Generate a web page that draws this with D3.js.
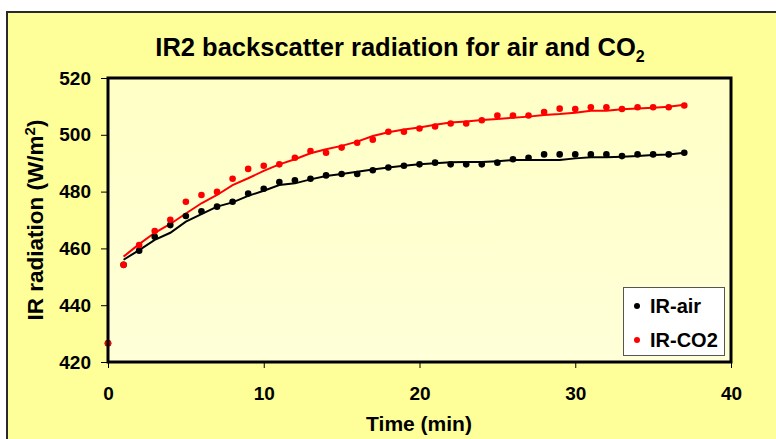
<!DOCTYPE html>
<html>
<head>
<meta charset="utf-8">
<script src="https://cdn.jsdelivr.net/npm/d3@7"></script>
<style>
  html, body { margin: 0; padding: 0; background: #ffffff; }
  svg { display: block; font-family: Arial, "Liberation Sans", sans-serif; }
</style>
</head>
<body>
<svg id="chart" width="776" height="439"></svg>
<script>
// ---- data ----
const times = d3.range(0, 38);
const airPoints = [426.6, 454.2, 459.2, 464.1, 468.2, 471.4, 473.1, 474.7, 476.4, 479.3,
  481.0, 483.4, 484.0, 484.5, 485.7, 486.2, 486.2, 487.5, 488.5, 489.1,
  489.6, 490.2, 489.6, 489.6, 489.6, 490.2, 491.4, 491.9, 493.1, 493.1,
  493.1, 493.1, 493.1, 492.5, 493.1, 493.1, 493.1, 493.7];
const co2Points = [426.6, 454.2, 461.2, 466.1, 470.1, 476.4, 478.8, 479.9, 484.5, 488.0,
  489.1, 489.6, 491.9, 494.3, 493.7, 495.5, 497.2, 498.3, 501.1, 501.1,
  502.2, 502.9, 504.0, 504.0, 505.1, 506.8, 506.8, 506.8, 508.0, 509.2,
  509.1, 509.7, 509.7, 509.1, 509.7, 509.7, 509.7, 510.3];
const lineTimes = d3.range(1, 38);
const airLine = [456.0, 459.4, 463.0, 465.5, 469.4, 472.1, 474.7, 476.2, 478.5, 480.3,
  482.3, 482.9, 484.3, 485.5, 486.2, 487.0, 487.8, 488.5, 489.1, 489.6,
  490.0, 490.3, 490.4, 490.4, 490.7, 491.1, 491.1, 491.1, 491.1, 491.7,
  492.1, 492.1, 492.3, 492.5, 492.9, 493.1, 493.7];
const co2Line = [457.1, 461.5, 465.5, 468.6, 472.3, 475.9, 478.8, 482.3, 484.7, 487.3,
  489.6, 491.4, 493.5, 494.9, 496.1, 497.6, 499.6, 500.9, 501.9, 502.6,
  503.5, 504.3, 504.7, 505.2, 505.6, 506.0, 506.4, 507.0, 507.3, 507.8,
  508.5, 508.5, 509.0, 509.3, 509.5, 509.9, 510.6];
const xTicks = [0, 10, 20, 30, 40];
const yTicks = [420, 440, 460, 480, 500, 520];
const seriesNames = ["IR-air", "IR-CO2"];
const seriesColors = ["#000000", "#ff0000"];

// ---- layout ----
const svg = d3.select("#chart");
const plot = { left: 108, top: 78, right: 731, bottom: 362 };

const x = d3.scaleLinear().domain([0, 40]).range([plot.left, plot.right]);
const y = d3.scaleLinear().domain([420, 520]).range([plot.bottom, plot.top]);

// outer chart area
svg.append("rect")
  .attr("x", 7).attr("y", 12).attr("width", 800).attr("height", 460)
  .attr("fill", "#ffff99").attr("stroke", "#2a2a2a").attr("stroke-width", 2);

// plot area gradient
const defs = svg.append("defs");
const grad = defs.append("linearGradient").attr("id", "pg")
  .attr("x1", "0").attr("y1", "0").attr("x2", "0").attr("y2", "1");
grad.append("stop").attr("offset", "0").attr("stop-color", "#ffffc6");
grad.append("stop").attr("offset", "1").attr("stop-color", "#ffffd8");

svg.append("rect")
  .attr("x", plot.left).attr("y", plot.top)
  .attr("width", plot.right - plot.left).attr("height", plot.bottom - plot.top)
  .attr("fill", "url(#pg)");

// title
const title = svg.append("text")
  .attr("x", 400).attr("y", 56)
  .attr("text-anchor", "middle")
  .attr("font-size", 25.5).attr("font-weight", "bold").attr("fill", "#000");
title.append("tspan").text("IR2 backscatter radiation for air and CO");
title.append("tspan").attr("font-size", 16).attr("dy", 6).text("2");

// axes
const xAxis = d3.axisBottom(x).tickValues(xTicks).tickSize(6).tickPadding(19);
const yAxis = d3.axisLeft(y).tickValues(yTicks).tickSize(7).tickPadding(10);

const gx = svg.append("g").attr("transform", `translate(0,${plot.bottom})`).call(xAxis);
const gy = svg.append("g").attr("transform", `translate(${plot.left},0)`).call(yAxis);
[gx, gy].forEach(g => {
  g.select(".domain").remove();
  g.selectAll(".tick line").attr("stroke", "#000").attr("stroke-width", 1);
  g.selectAll(".tick text")
    .attr("font-size", 19).attr("font-weight", "bold").attr("fill", "#000")
    .attr("font-family", "Arial, 'Liberation Sans', sans-serif");
});

// axis titles
svg.append("text")
  .attr("x", 419).attr("y", 431)
  .attr("text-anchor", "middle")
  .attr("font-size", 21).attr("font-weight", "bold").text("Time (min)");

const yt = svg.append("text")
  .attr("transform", "translate(43,220) rotate(-90)")
  .attr("text-anchor", "middle")
  .attr("font-size", 22.5).attr("font-weight", "bold");
yt.append("tspan").text("IR radiation (W/m");
yt.append("tspan").attr("font-size", 15).attr("dy", -8).text("2");
yt.append("tspan").attr("dy", 8).text(")");

// lines
const lineGen = d3.line().x((d, i) => x(lineTimes[i])).y(d => y(d));
svg.append("path").datum(airLine).attr("d", lineGen)
  .attr("fill", "none").attr("stroke", seriesColors[0]).attr("stroke-width", 2);
svg.append("path").datum(co2Line).attr("d", lineGen)
  .attr("fill", "none").attr("stroke", seriesColors[1]).attr("stroke-width", 2);

// points
svg.append("g").selectAll("circle").data(airPoints).join("circle")
  .attr("cx", (d, i) => x(times[i])).attr("cy", d => y(d)).attr("r", 3.3)
  .attr("fill", seriesColors[0]);
svg.append("g").selectAll("circle").data(co2Points).join("circle")
  .attr("cx", (d, i) => x(times[i])).attr("cy", d => y(d)).attr("r", 3.3)
  .attr("fill", seriesColors[1]);

// plot frame
svg.append("rect")
  .attr("x", plot.left).attr("y", plot.top)
  .attr("width", plot.right - plot.left).attr("height", plot.bottom - plot.top)
  .attr("fill", "none").attr("stroke", "#000").attr("stroke-width", 3);

// legend
const lg = svg.append("g");
lg.append("rect").attr("x", 623.5).attr("y", 287.5).attr("width", 101).attr("height", 68)
  .attr("fill", "#ffffff").attr("stroke", "#555").attr("stroke-width", 1);
seriesNames.forEach((name, i) => {
  const cy = 306 + i * 34;
  lg.append("circle").attr("cx", 637).attr("cy", cy).attr("r", 3).attr("fill", seriesColors[i]);
  lg.append("text").attr("x", 650).attr("y", cy + 7)
    .attr("font-size", 20).attr("font-weight", "bold").text(name);
});
</script>
</body>
</html>
